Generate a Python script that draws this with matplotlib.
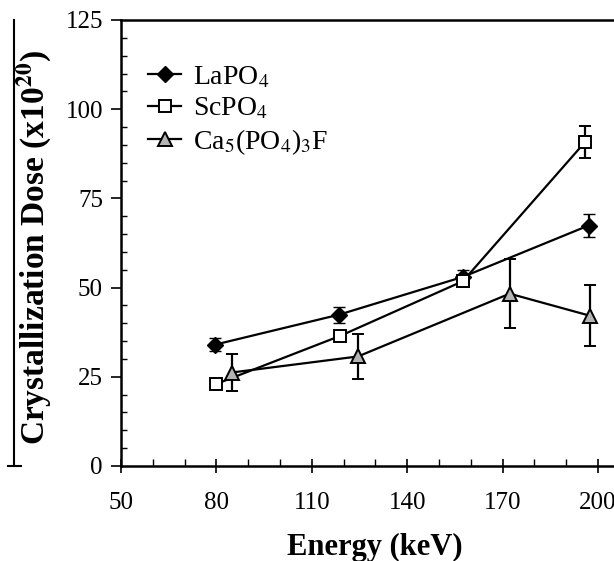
import matplotlib
matplotlib.use("Agg")
import matplotlib.pyplot as plt
from matplotlib.ticker import MultipleLocator
from matplotlib.lines import Line2D

plt.rcParams['font.family'] = ['Liberation Serif', 'DejaVu Serif']
plt.rcParams['mathtext.fontset'] = 'stix'

# data (energy in keV, dose in 1e20)
la_energy = [79.5, 118.5, 157.5, 197]
la_dose = [34, 42.4, 53, 67.4]
la_err = [1.8, 2.2, 2.0, 3.3]

sc_energy = [80, 119, 157.5, 196]
sc_dose = [23, 36.5, 51.8, 90.9]
sc_err = [0.0, 0.0, 1.5, 4.5]

ca_energy = [84.8, 124.5, 172.2, 197.5]
ca_dose = [26.2, 30.7, 48.3, 42.1]
ca_err = [5.2, 6.2, 9.7, 8.6]

labels = ['LaPO$_4$', 'ScPO$_4$', 'Ca$_5$(PO$_4$)$_3$F']
x_ticks = [50, 80, 110, 140, 170, 200]
y_ticks = [0, 25, 50, 75, 100, 125]

fig = plt.figure(figsize=(6.14, 5.61), dpi=100)
ax = fig.add_axes([121 / 614, 1 - 466 / 561, 1 - 121 / 614, (466 - 20) / 561])

styles = [
    dict(marker='D', markersize=8, mfc='black', mec='black', mew=1.0),
    dict(marker='s', markersize=9, mfc='white', mec='black', mew=1.4),
    dict(marker='^', markersize=10, mfc='#b4b4b4', mec='black', mew=1.4),
]
series = [(la_energy, la_dose, la_err),
          (sc_energy, sc_dose, sc_err),
          (ca_energy, ca_dose, ca_err)]

for i, (xs, ys, es) in enumerate(series):
    ax.errorbar(xs, ys, yerr=es, color='black', lw=1.6, capsize=4,
                capthick=1.6, elinewidth=1.6, zorder=3 + i, **styles[i])

ax.set_xlim(50, 205)
ax.set_ylim(0, 125)
ax.set_xticks(x_ticks)
ax.set_yticks(y_ticks)
ax.xaxis.set_minor_locator(MultipleLocator(10))
ax.yaxis.set_minor_locator(MultipleLocator(5))
ax.tick_params(axis='x', which='major', direction='inout', length=10, width=1.2,
               labelsize=18, pad=14)
ax.tick_params(axis='x', which='minor', direction='in', length=5, width=1.0)
ax.tick_params(axis='y', which='major', direction='out', length=7, width=1.2,
               labelsize=18, pad=6)
ax.tick_params(axis='y', which='minor', direction='in', length=4, width=1.0)

for s in ['left', 'bottom', 'top']:
    ax.spines[s].set_linewidth(1.8)
ax.spines['right'].set_visible(False)

ax.set_xlabel('Energy (keV)', fontsize=22, fontweight='bold')
ax.xaxis.set_label_coords((375 - 121) / 493, -(555 - 466) / 446)
ax.xaxis.label.set_va('baseline')
ax.set_ylabel(r'Crystallization Dose (x10$^{\mathbf{20}}$)', fontsize=24,
              fontweight='bold')
ax.yaxis.set_label_coords(-0.136, 0.49)

handles = [Line2D([], [], color='black', lw=1.6, **st) for st in styles]
ax.legend(handles, labels, loc='upper left', bbox_to_anchor=(0.055, 0.90),
          frameon=False, fontsize=20, handlelength=1.2, handletextpad=0.4,
          labelspacing=0.2, borderaxespad=0.0, borderpad=0.0)

# scanned-page edge on the far left
fig.add_artist(Line2D([14 / 614, 14 / 614], [1 - 20 / 561, 1 - 466 / 561],
                      color='black', lw=1.5))
fig.add_artist(Line2D([8 / 614, 21 / 614], [1 - 466 / 561, 1 - 466 / 561],
                      color='black', lw=1.5))

fig.savefig('out.png', dpi=100)
